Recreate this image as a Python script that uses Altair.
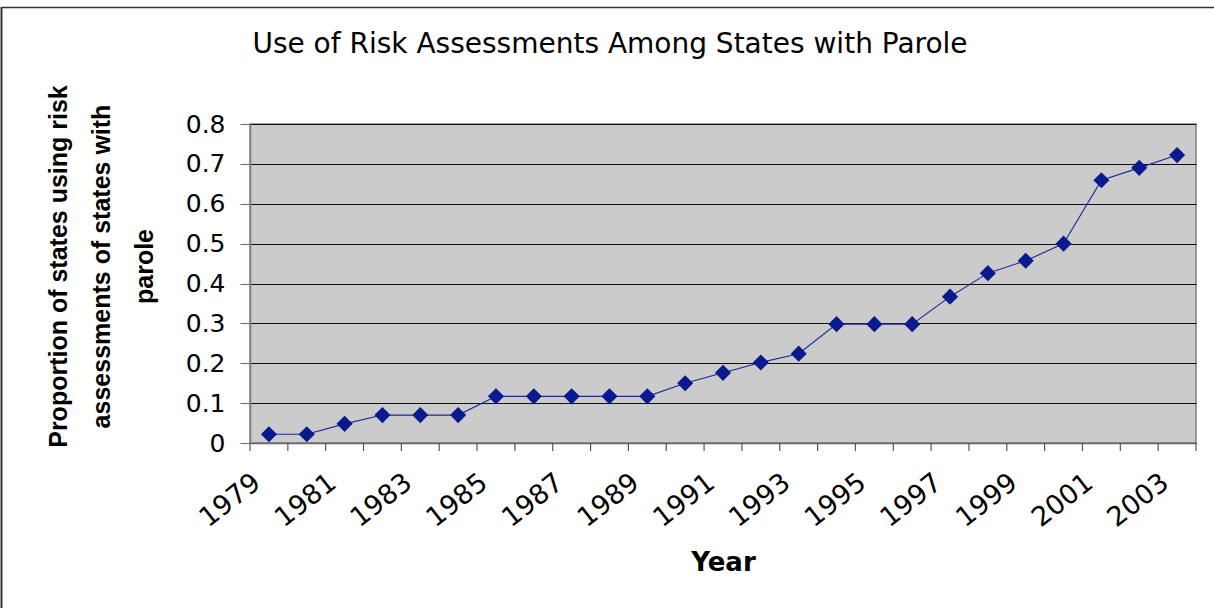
import altair as alt
import pandas as pd

# Survey years and share of parole states using risk assessments
years = [1979, 1980, 1981, 1982, 1983, 1984, 1985, 1986, 1987, 1988, 1989,
         1990, 1991, 1992, 1993, 1994, 1995, 1996, 1997, 1998, 1999, 2000,
         2001, 2002, 2003]
proportion = [0.022, 0.022, 0.048, 0.070, 0.070, 0.070, 0.117, 0.117, 0.117,
              0.117, 0.117, 0.150, 0.176, 0.202, 0.224, 0.298, 0.298, 0.298,
              0.367, 0.426, 0.457, 0.500, 0.659, 0.690, 0.722]
year_labels = years[::2]
y_ticks = [0, 0.1, 0.2, 0.3, 0.4, 0.5, 0.6, 0.7, 0.8]
chart_title = "Use of Risk Assessments Among States with Parole"

df = pd.DataFrame({"year": years, "value": proportion})
# category boundaries, where the category-axis tick marks sit
edges = pd.DataFrame({"edge": [y - 0.5 for y in years] + [years[-1] + 0.5]})
one = pd.DataFrame({"k": [0]})

W, H = 946, 319
LINE = "#1a2a96"
MARK = "#0a1a8e"

x_scale = alt.Scale(domain=[years[0] - 0.5, years[-1] + 0.5], nice=False, zero=False)
y_scale = alt.Scale(domain=[0, 0.8], nice=False)

x_axis = alt.Axis(
    title="Year", values=year_labels, format="d", grid=False, ticks=False,
    tickSize=0, labelAngle=322, labelAlign="right", labelBaseline="middle",
    labelOffset=-12, labelPadding=36, labelOverlap=False, labelFlush=False,
    labelBound=False, labelFont="DejaVu Sans", labelFontSize=27,
    labelColor="black", domainColor="#666666", domainWidth=1.5,
    titleFont="DejaVu Sans", titleFontSize=26, titleFontWeight="bold",
    titleColor="black", titleBaseline="middle", titleX=W / 2, titleY=119,
    titleAlign="center",
)
y_axis = alt.Axis(
    title=["Proportion of states using risk", "assessments of states with", "parole"],
    values=y_ticks, format=".1~f", grid=True, gridColor="#111111",
    gridWidth=1, tickSize=10, tickColor="#666666", labelPadding=15,
    labelFont="DejaVu Sans", labelFontSize=25, labelColor="black",
    domainColor="#808080", domainWidth=1.5,
    titleFont="Liberation Sans", titleFontSize=25, titleFontWeight="bold",
    titleColor="black", titleAngle=270, titleAlign="center",
    titleBaseline="middle", titleLineHeight=43, titleX=-192, titleY=142,
)

x_enc = alt.X("year:Q", scale=x_scale, axis=x_axis)
y_enc = alt.Y("value:Q", scale=y_scale, axis=y_axis)

line = alt.Chart(df).mark_line(color=LINE, strokeWidth=1.1).encode(x=x_enc, y=y_enc)
points = alt.Chart(df).mark_point(
    shape="diamond", filled=True, size=260, color=MARK, opacity=1
).encode(x=x_enc, y=y_enc)

ticks = alt.Chart(edges).mark_rule(color="#555555", strokeWidth=1.2).encode(
    x=alt.X("edge:Q", scale=x_scale, axis=x_axis),
    y=alt.value(H),
    y2=alt.value(H + 8),
)

# outer frame along the left and top of the figure
frame_left = alt.Chart(one).mark_rule(color="#333333", strokeWidth=2).encode(
    x=alt.value(-248.5), y=alt.value(-117), y2=alt.value(H + 170)
)
frame_top = alt.Chart(one).mark_rule(color="#333333", strokeWidth=1.5).encode(
    x=alt.value(-248.5), x2=alt.value(W + 20), y=alt.value(-116.5)
)

# chart heading, centred over the whole figure
heading = alt.Chart(one).mark_text(
    text=chart_title, font="DejaVu Sans", fontSize=28, color="black",
    align="center", baseline="middle",
).encode(x=alt.value(360), y=alt.value(-79))

chart = alt.layer(frame_left, frame_top, ticks, line, points, heading).properties(
    width=W,
    height=H,
    autosize=alt.AutoSizeParams(type="none"),
    padding={"left": 250, "top": 124, "right": 18, "bottom": 165},
    background="white",
).configure_view(
    fill="#cbcbcb", stroke="#808080", strokeWidth=1.5
)

chart.save("out.html", embed_options={"renderer": "svg", "actions": False})
